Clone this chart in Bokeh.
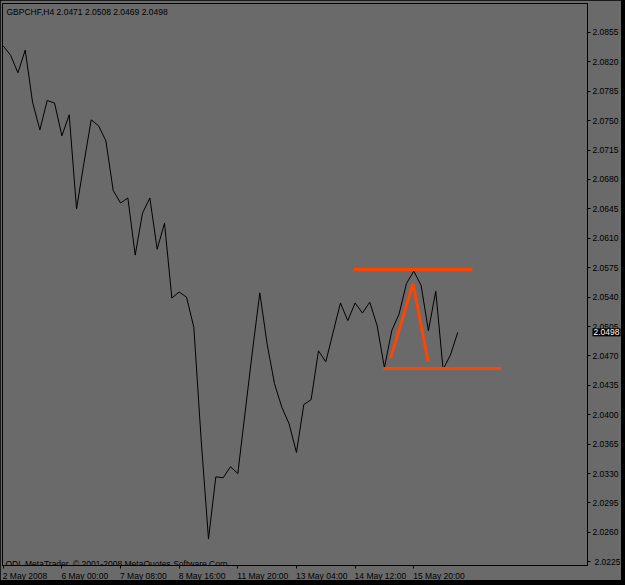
from bokeh.plotting import figure
from bokeh.models import (Range1d, FixedTicker, Label, ColumnDataSource, PrintfTickFormatter,
                          CustomLabelingPolicy)
from bokeh.layouts import column
from bokeh.embed import file_html
from bokeh.resources import INLINE

symbol = "GBPCHF,H4"
last_ohlc = [2.0471, 2.0508, 2.0469, 2.0498]

close = [2.0839, 2.0828, 2.0807, 2.0834, 2.0772, 2.0739, 2.0774, 2.0771, 2.0732, 2.0757,
         2.0645, 2.0699, 2.0751, 2.0744, 2.0726, 2.0667, 2.0652, 2.0658, 2.0590, 2.0640,
         2.0658, 2.0597, 2.0628, 2.0539, 2.0546, 2.0540, 2.0504, 2.0370, 2.0252, 2.0326,
         2.0325, 2.0338, 2.0330, 2.0403, 2.0476, 2.0545, 2.0484, 2.0437, 2.0409, 2.0389,
         2.0355, 2.0412, 2.0418, 2.0476, 2.0463, 2.0498, 2.0533, 2.0512, 2.0533, 2.0521,
         2.0534, 2.0506, 2.0456, 2.0500, 2.0520, 2.0556, 2.0571, 2.0554, 2.0500, 2.0547,
         2.0454, 2.0471, 2.0498]
bars = list(range(len(close)))

time_tick_bars = [0, 8, 16, 24, 32, 40, 48, 56]
time_tick_labels = ["2 May 2008", "6 May 00:00", "7 May 08:00", "8 May 16:00",
                    "11 May 20:00", "13 May 04:00", "14 May 12:00", "15 May 20:00"]

price_ticks = [2.0225, 2.0260, 2.0295, 2.0330, 2.0365, 2.0400, 2.0435, 2.0470, 2.0505,
               2.0540, 2.0575, 2.0610, 2.0645, 2.0680, 2.0715, 2.0750, 2.0785, 2.0820, 2.0855]

# hand-drawn objects (bar index, price)
resistance_x = [47.8, 64.0]
resistance_y = [2.0573, 2.0573]
support_x = [51.85, 67.95]
support_y = [2.0455, 2.0455]
peak_x = [52.85, 55.9, 57.95]
peak_y = [2.0467, 2.0556, 2.0464]

copyright_text = "ODL MetaTrader, \u00a9 2001-2008 MetaQuotes Software Corp."

BG = "#6a6a6a"
FONT = "Liberation Sans"
FS = "8.5px"

W, H = 621, 580
BL, BR, BT, BB = 2, 34, 3, 15
X0, X1 = -0.1, 79.7
Y0, Y1 = 2.02205, 2.08895

p = figure(width=W, height=H,
           x_range=Range1d(X0, X1), y_range=Range1d(Y0, Y1),
           output_backend="svg", toolbar_location=None,
           y_axis_location="right",
           min_border_left=BL, min_border_right=BR, min_border_top=BT, min_border_bottom=BB)
p.background_fill_color = BG
p.border_fill_color = BG
p.outline_line_color = "black"
p.outline_line_width = 1
p.xgrid.visible = False
p.ygrid.visible = False

for ax in (p.xaxis[0], p.yaxis[0]):
    ax.axis_line_color = "black"
    ax.major_tick_line_color = "black"
    ax.minor_tick_line_color = None
    ax.major_tick_in = 0
    ax.major_tick_out = 3
    ax.major_label_standoff = 2
    ax.major_label_text_font = FONT
    ax.major_label_text_font_size = FS
    ax.major_label_text_color = "black"

# time axis: tick marks here, left-aligned tick texts drawn on the overlay below
p.xaxis[0].ticker = FixedTicker(ticks=time_tick_bars)
p.xaxis[0].major_label_policy = CustomLabelingPolicy(code="""
    for (const i of indices) { indices.unset(i) }
    return indices
""")

p.yaxis[0].ticker = FixedTicker(ticks=price_ticks)
p.yaxis[0].formatter = PrintfTickFormatter(format="%.4f")
# the lowest price text sits on the frame's edge; it is drawn on the overlay instead
p.yaxis[0].major_label_policy = CustomLabelingPolicy(code="""
    indices.unset(0)
    return indices
""")

src = ColumnDataSource(data=dict(bar=bars, close=close))
p.line("bar", "close", source=src, line_color="black", line_width=1)

orange = "#ff4500"
p.line(resistance_x, resistance_y, line_color=orange, line_width=3)
p.line(support_x, support_y, line_color=orange, line_width=3)
p.line(peak_x, peak_y, line_color=orange, line_width=3)

title = symbol + "  " + " ".join(f"{v:.4f}" for v in last_ohlc)
p.add_layout(Label(x=X0, y=Y1, x_offset=4, y_offset=-3, text=title,
                   text_font=FONT, text_font_size=FS, text_color="black",
                   text_baseline="top", text_align="left"))
p.add_layout(Label(x=X0, y=Y0, x_offset=3, y_offset=2, text=copyright_text,
                   text_font=FONT, text_font_size=FS, text_color="black",
                   text_baseline="alphabetic", text_align="left"))

# transparent overlay figure covering the whole canvas, same scales in pixels
fw, fh = W - BL - BR, H - BT - BB
dx = (X1 - X0) / fw
dy = (Y1 - Y0) / fh
q = figure(frame_width=W, frame_height=H,
           x_range=Range1d(X0 - BL * dx, X1 + BR * dx),
           y_range=Range1d(Y0 - BB * dy, Y1 + BT * dy),
           output_backend="svg", toolbar_location=None,
           x_axis_type=None, y_axis_type=None,
           min_border=0, min_border_left=0, min_border_right=0,
           min_border_top=0, min_border_bottom=0,
           styles={"position": "absolute", "left": "0px", "top": "0px"})
q.background_fill_alpha = 0
q.border_fill_alpha = 0
q.outline_line_color = None

for b, lab in zip(time_tick_bars, time_tick_labels):
    q.add_layout(Label(x=b, y=Y0, x_offset=-2.5, y_offset=-5, text=lab,
                       text_font=FONT, text_font_size=FS, text_color="black",
                       text_baseline="top", text_align="left"))

q.add_layout(Label(x=X1, y=price_ticks[0], x_offset=5, text=f"{price_ticks[0]:.4f}",
                   text_font=FONT, text_font_size=FS, text_color="black",
                   text_baseline="middle", text_align="left"))

q.add_layout(Label(x=X1, y=close[-1], x_offset=3, text=f"{close[-1]:.4f}",
                   text_font=FONT, text_font_size=FS, text_color="white",
                   text_baseline="middle", text_align="left",
                   background_fill_color="black", padding=1))

layout = column(p, q, width=625, height=585,
                styles={"background-color": "black", "position": "relative", "overflow": "hidden"})

open("out.html", "w").write(file_html(layout, INLINE))
